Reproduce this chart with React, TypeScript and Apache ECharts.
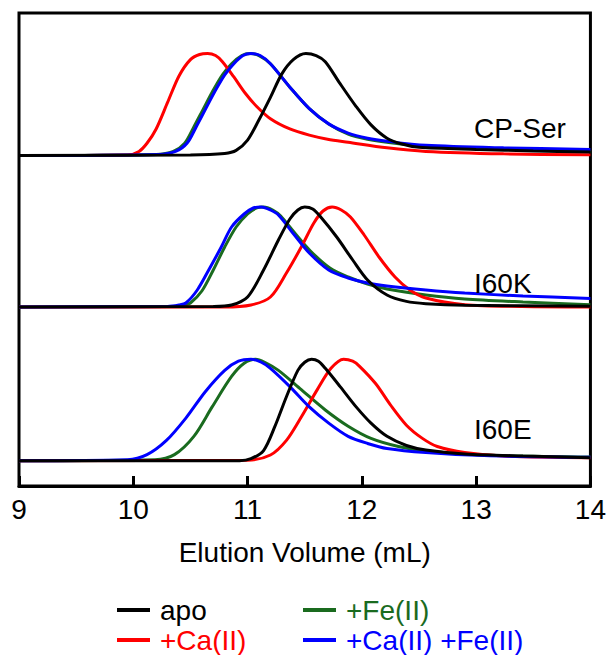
import React, { useEffect, useRef } from "react";
import * as echarts from "echarts";

type Pt = [number, number];

// Elution volume (mL) vs normalised absorbance
const cpSerApo: Pt[] = [[9,0],[10.5,0.005],[10.8,0.02],[10.9,0.05],[11.0,0.15],[11.1,0.35],[11.2,0.57],[11.3,0.8],[11.4,0.94],[11.51,1.0],[11.6,0.98],[11.68,0.92],[11.8,0.72],[11.95,0.48],[12.08,0.3],[12.22,0.17],[12.36,0.11],[12.5,0.08],[13,0.06],[13.5,0.045],[14,0.035]];
const cpSerCa: Pt[] = [[9,0],[9.95,0.005],[10.05,0.04],[10.12,0.12],[10.2,0.26],[10.3,0.52],[10.4,0.78],[10.5,0.94],[10.58,0.99],[10.65,1.0],[10.72,0.98],[10.78,0.92],[10.88,0.77],[10.98,0.61],[11.08,0.48],[11.2,0.36],[11.37,0.26],[11.54,0.2],[11.7,0.16],[11.88,0.13],[12.22,0.075],[12.56,0.04],[13.24,0.016],[14,0.007]];
const cpSerFe: Pt[] = [[9,0],[10.2,0.01],[10.35,0.04],[10.45,0.12],[10.53,0.28],[10.61,0.45],[10.69,0.62],[10.78,0.79],[10.86,0.9],[10.95,0.98],[11.02,1.0],[11.1,0.98],[11.2,0.9],[11.37,0.67],[11.54,0.46],[11.71,0.31],[11.88,0.21],[12.05,0.16],[12.22,0.13],[12.56,0.09],[13.24,0.06],[14,0.04]];
const cpSerCaFe: Pt[] = [[9,0],[10.22,0.01],[10.37,0.04],[10.47,0.12],[10.55,0.28],[10.63,0.45],[10.71,0.62],[10.8,0.79],[10.88,0.9],[10.96,0.98],[11.03,1.0],[11.11,0.98],[11.2,0.9],[11.37,0.67],[11.54,0.46],[11.71,0.31],[11.88,0.22],[12.05,0.17],[12.22,0.14],[12.56,0.1],[13.24,0.075],[14,0.06]];

const i60kApo: Pt[] = [[9,0],[10.7,0.005],[10.86,0.02],[11.0,0.1],[11.14,0.37],[11.27,0.67],[11.37,0.88],[11.44,0.97],[11.5,1.0],[11.57,0.98],[11.64,0.9],[11.78,0.7],[11.92,0.47],[12.05,0.27],[12.22,0.12],[12.39,0.056],[12.56,0.033],[12.9,0.017],[14,0.007]];
const i60kCa: Pt[] = [[9,0],[10.8,0],[11.03,0.02],[11.2,0.1],[11.34,0.34],[11.47,0.6],[11.58,0.84],[11.66,0.96],[11.74,1.0],[11.82,0.97],[11.9,0.9],[12.02,0.72],[12.15,0.5],[12.29,0.3],[12.42,0.17],[12.56,0.09],[12.9,0.023],[13.4,0.005],[14,0]];
const i60kFe: Pt[] = [[9,0],[10.35,0.005],[10.45,0.02],[10.5,0.04],[10.6,0.16],[10.7,0.37],[10.8,0.6],[10.9,0.8],[11.0,0.93],[11.08,0.99],[11.14,1.0],[11.22,0.97],[11.29,0.91],[11.42,0.73],[11.55,0.56],[11.72,0.39],[11.88,0.3],[12.05,0.23],[12.22,0.18],[12.56,0.12],[12.9,0.08],[13.41,0.05],[14,0.023]];
const i60kCaFe: Pt[] = [[9,0],[10.3,0.005],[10.4,0.02],[10.46,0.04],[10.56,0.17],[10.66,0.37],[10.77,0.6],[10.86,0.8],[10.97,0.93],[11.05,0.99],[11.12,1.0],[11.2,0.97],[11.27,0.92],[11.41,0.72],[11.54,0.54],[11.71,0.37],[11.88,0.29],[12.05,0.24],[12.22,0.21],[12.56,0.17],[12.9,0.14],[13.41,0.11],[14,0.086]];

const i60eApo: Pt[] = [[9,0],[10.93,0],[11.03,0.02],[11.14,0.1],[11.24,0.34],[11.34,0.63],[11.44,0.89],[11.5,0.97],[11.56,1.0],[11.62,0.98],[11.68,0.91],[11.81,0.73],[11.95,0.53],[12.08,0.37],[12.22,0.24],[12.39,0.15],[12.56,0.105],[12.9,0.066],[13.41,0.046],[14,0.03]];
const i60eCa: Pt[] = [[9,0],[11.0,0.005],[11.2,0.056],[11.34,0.2],[11.47,0.43],[11.61,0.7],[11.73,0.91],[11.84,1.0],[11.92,0.98],[11.98,0.93],[12.12,0.76],[12.25,0.55],[12.39,0.35],[12.53,0.22],[12.66,0.14],[12.9,0.08],[13.24,0.046],[14,0.03]];
const i60eFe: Pt[] = [[9,0],[10.19,0.01],[10.36,0.06],[10.53,0.24],[10.69,0.53],[10.86,0.83],[10.97,0.96],[11.07,1.0],[11.15,0.97],[11.27,0.89],[11.47,0.7],[11.68,0.5],[11.88,0.34],[12.08,0.22],[12.32,0.14],[12.56,0.095],[13.07,0.056],[14,0.036]];
const i60eCaFe: Pt[] = [[9,0],[9.95,0.01],[10.12,0.06],[10.29,0.2],[10.46,0.42],[10.63,0.68],[10.8,0.89],[10.92,0.98],[11.03,1.0],[11.12,0.97],[11.2,0.91],[11.37,0.73],[11.54,0.53],[11.71,0.37],[11.88,0.24],[12.05,0.17],[12.22,0.12],[12.56,0.08],[13.07,0.05],[14,0.033]];

const panelNames = ["CP-Ser", "I60K", "I60E"];
const panelOffsets = [330.5, 179, 25.3];
const panelScales = [102, 100, 101.5];
const conditionNames = ["apo", "+Ca(II)", "+Fe(II)", "+Ca(II) +Fe(II)"];
const conditionColors = ["#000000", "#ff0000", "#1a6b1f", "#0000ff"];
const panelData: Pt[][][] = [
  [cpSerApo, cpSerCa, cpSerFe, cpSerCaFe],
  [i60kApo, i60kCa, i60kFe, i60kCaFe],
  [i60eApo, i60eCa, i60eFe, i60eCaFe],
];
const xTicks = [9, 10, 11, 12, 13, 14];

const FONT = "Liberation Sans, Arial, sans-serif";
const drawOrder = [2, 1, 3, 0];

export default function App() {
  const ref = useRef<HTMLDivElement>(null);
  useEffect(() => {
    if (!ref.current) return;
    const chart = echarts.init(ref.current, undefined, { renderer: "svg" });
    const series: any[] = [];
    panelData.forEach((curves, p) => {
      drawOrder.forEach((c) => {
        series.push({
          type: "line",
          name: conditionNames[c],
          data: curves[c].map(([x, v]) => [x, panelOffsets[p] + v * panelScales[p]]),
          showSymbol: false,
          smooth: 0.3,
          lineStyle: { width: 3, color: conditionColors[c] },
          itemStyle: { color: conditionColors[c] },
          z: 2,
        });
      });
    });
    const legendItem = (i: number) => ({
      name: conditionNames[i],
      textStyle: { color: conditionColors[i] },
    });
    const legendCommon = {
      orient: "vertical",
      icon: "rect",
      itemWidth: 33,
      itemHeight: 4,
      itemGap: 2,
      padding: 0,
      height: 80,
      selectedMode: false,
      textStyle: { fontSize: 28, lineHeight: 28, fontFamily: FONT, padding: [0, 0, 0, 5] },
    };
    chart.setOption({
      animation: false,
      grid: {
        left: 19,
        right: 17,
        top: 13,
        bottom: 169,
        show: true,
        borderColor: "#000",
        borderWidth: 3,
      },
      xAxis: {
        type: "value",
        min: xTicks[0],
        max: xTicks[xTicks.length - 1],
        interval: 1,
        axisLine: { show: true, lineStyle: { color: "#000", width: 3 } },
        axisTick: { show: true, inside: true, length: 10, lineStyle: { color: "#000", width: 3 } },
        splitLine: { show: false },
        axisLabel: { fontSize: 28, fontFamily: FONT, color: "#000", margin: 9 },
        name: "Elution Volume (mL)",
        nameLocation: "middle",
        nameGap: 52,
        nameTextStyle: { fontSize: 28, fontFamily: FONT, color: "#000" },
      },
      yAxis: {
        type: "value",
        min: 0,
        max: 473,
        show: false,
        splitLine: { show: false },
      },
      legend: [
        { ...legendCommon, left: 117, top: 596, data: [legendItem(0), legendItem(1)] },
        { ...legendCommon, left: 303, top: 596, data: [legendItem(2), legendItem(3)] },
      ],
      graphic: panelNames.map((n, i) => ({
        type: "text",
        left: 474,
        top: [114, 269, 415][i],
        style: { text: n, fontSize: 28, fontFamily: FONT, fill: "#000" },
        z: 10,
      })),
      series,
    });
    return () => chart.dispose();
  }, []);
  return (
    <div
      ref={ref}
      style={{ position: "absolute", left: 0, top: 0, width: 609, height: 655 }}
    />
  );
}
